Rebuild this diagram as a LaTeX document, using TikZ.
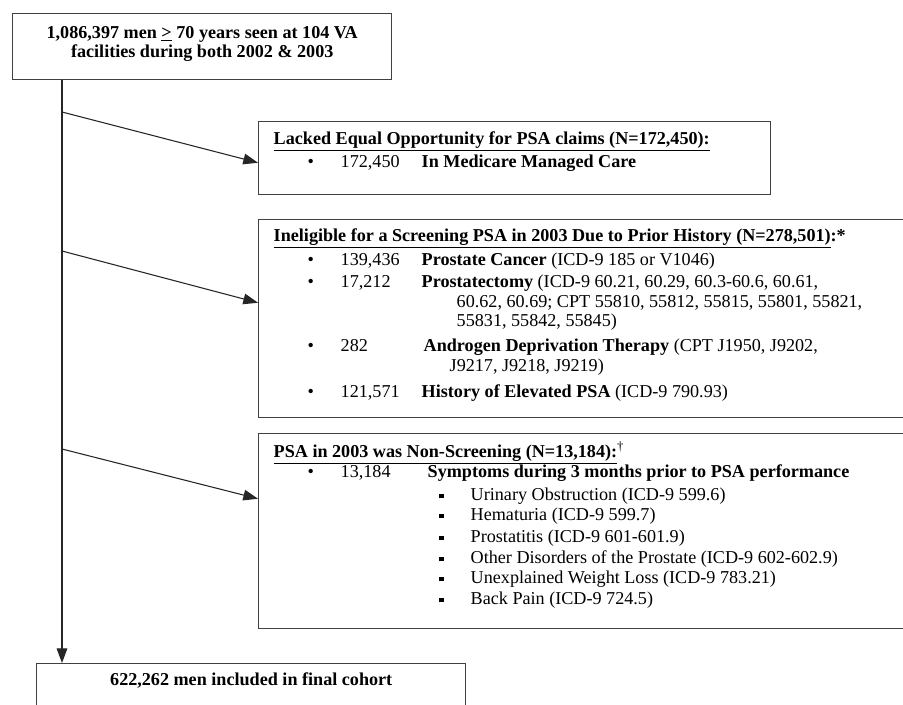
\documentclass[tikz,border=0pt]{standalone}
\usepackage{fontspec}
\setmainfont{Liberation Serif}
\usetikzlibrary{arrows.meta}
\newlength{\px}
\setlength{\px}{0.75pt}
\newcommand{\putat}[2]{\rlap{\hspace*{#1\px}#2}}
\newcommand{\sqbul}{\raisebox{1.7pt}{\rule{3.6pt}{3.6pt}}}
\begin{document}
\begin{tikzpicture}[x=0.75pt,y=-0.75pt,>={Triangle[length=11pt,width=8pt]},
    box/.style={draw=black!75,line width=1.1pt,inner sep=0pt,anchor=north west,
      font=\fontsize{13.6}{14.625}\selectfont},
    flow/.style={draw=black!85,line width=0.8pt,->}]
    \useasboundingbox (0,0) rectangle (903,704);
    \clip (0,0) rectangle (903,704);
    \fill[white] (0,0) rectangle (903,704);
    % boxes
    \node[box] (start) at (12,13) {\parbox[c][66\px][t]{379\px}{\centering\bfseries
      \rule{0pt}{25\px}1,086,397 men \underline{>} 70 years seen at 104 VA\\[-0.5\px]
      facilities during both 2002 \& 2003}};
    \node[box] (lacked) at (258,121) {\parbox[c][73\px][t]{512\px}{\leftskip=15\px
      \rule{0pt}{23\px}\underline{\textbf{Lacked Equal Opportunity for PSA claims (N=172,450):}}\\[3.5\px]
      \putat{34}{\textbullet}\putat{67}{172,450}\hspace*{148\px}\textbf{In Medicare Managed Care}}};
    \node[box] (inelig) at (258,219) {\parbox[c][198\px][t]{702\px}{\leftskip=15\px
      \rule{0pt}{22\px}\underline{\textbf{Ineligible for a Screening PSA in 2003 Due to Prior History (N=278,501)}}\textbf{:*}\\[4.5\px]
      \putat{34}{\textbullet}\putat{67}{139,436}\hspace*{148\px}\textbf{Prostate Cancer} (ICD-9 185 or V1046)\\[2.5\px]
      \putat{34}{\textbullet}\putat{67}{17,212}\hspace*{148\px}\textbf{Prostatectomy} (ICD-9 60.21, 60.29, 60.3-60.6, 60.61,\\
      \hspace*{183\px}60.62, 60.69; CPT 55810, 55812, 55815, 55801, 55821,\\
      \hspace*{183\px}55831, 55842, 55845)\\[5.5\px]
      \putat{34}{\textbullet}\putat{67}{282}\hspace*{150\px}\textbf{Androgen Deprivation Therapy} (CPT J1950, J9202,\\
      \hspace*{176\px}J9217, J9218, J9219)\\[7\px]
      \putat{34}{\textbullet}\putat{67}{121,571}\hspace*{148\px}\textbf{History of Elevated PSA} (ICD-9 790.93)}};
    \node[box] (nonscr) at (258,433) {\parbox[c][195\px][t]{702\px}{\leftskip=15\px
      \rule{0pt}{24\px}\underline{\textbf{PSA in 2003 was Non-Screening (N=13,184):}}\textsuperscript{†}\\[0.5\px]
      \putat{34}{\textbullet}\putat{67}{13,184}\hspace*{154\px}\textbf{Symptoms during 3 months prior to PSA performance}\\[3.5\px]
      \putat{165}{\sqbul}\hspace*{197\px}Urinary Obstruction (ICD-9 599.6)\\[0.5\px]
      \putat{165}{\sqbul}\hspace*{197\px}Hematuria (ICD-9 599.7)\\[2.5\px]
      \putat{165}{\sqbul}\hspace*{197\px}Prostatitis (ICD-9 601-601.9)\\[1.5\px]
      \putat{165}{\sqbul}\hspace*{197\px}Other Disorders of the Prostate (ICD-9 602-602.9)\\[0.5\px]
      \putat{165}{\sqbul}\hspace*{197\px}Unexplained Weight Loss (ICD-9 783.21)\\[1.5\px]
      \putat{165}{\sqbul}\hspace*{197\px}Back Pain (ICD-9 724.5)}};
    \node[box] (final) at (36,663) {\parbox[c][80\px][t]{429\px}{\centering\bfseries
      \rule{0pt}{22\px}622,262 men included in final cohort}};
    % connectors
    \coordinate (fork1) at (62,112);
    \coordinate (fork2) at (62,251);
    \coordinate (fork3) at (62,449);
    \draw[flow] (start.south -| fork1) -- (final.north -| fork1);
    \draw[flow] (fork1) -- ([yshift=-4.5\px]lacked.west);
    \draw[flow] (fork2) -- ([yshift=16\px]inelig.west);
    \draw[flow] (fork3) -- ([yshift=32.5\px]nonscr.west);
\end{tikzpicture}
\end{document}
